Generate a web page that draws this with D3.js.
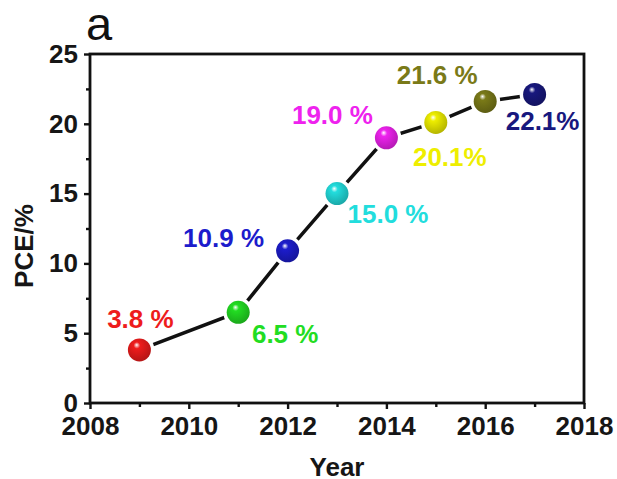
<!DOCTYPE html>
<html>
<head>
<meta charset="UTF-8">
<script src="https://cdn.jsdelivr.net/npm/d3@7"></script>
<style>
  * { margin: 0; padding: 0; }
  body { background: #fff; width: 617px; height: 479px; overflow: hidden; }
  text { font-family: 'Liberation Sans', Arial, sans-serif; }
</style>
</head>
<body>
<svg id="chart" width="617" height="479"></svg>
<script>
// ─── Data ───────────────────────────────────────────────
const years  = [2009, 2011, 2012, 2013, 2014, 2015, 2016, 2017];
const pce    = [3.8, 6.5, 10.9, 15.0, 19.0, 20.1, 21.6, 22.1];
const labels = ['3.8 %', '6.5 %', '10.9 %', '15.0 %', '19.0 %', '20.1%', '21.6 %', '22.1%'];
const colors = ['#ee1c1c', '#22dd22', '#1c1ccc', '#22dddd', '#ee22ee', '#eeee00', '#7a7a18', '#18187e'];
const xTicks = [2008, 2010, 2012, 2014, 2016, 2018];
const yTicks = [0, 5, 10, 15, 20, 25];

// label offsets relative to point (text anchor middle, baseline)
const labelDx = [1, 47, -64, 51, -54, 14, -48, 8];
const labelDy = [-22, 31, -4, 29, -14, 44, -17, 36];

const M = { left: 90, top: 54, right: 584, bottom: 403 };
const FS = 26;
const svg = d3.select('#chart');

const x = d3.scaleLinear().domain([2008, 2018]).range([M.left, M.right]);
const y = d3.scaleLinear().domain([0, 25]).range([M.bottom, M.top]);

// frame
svg.append('rect')
  .attr('x', M.left).attr('y', M.top)
  .attr('width', M.right - M.left).attr('height', M.bottom - M.top)
  .attr('fill', 'none').attr('stroke', '#111').attr('stroke-width', 2.8);

// axes
const xAxis = d3.axisBottom(x).tickValues(xTicks).tickFormat(d3.format('d')).tickSize(6).tickPadding(7.5);
const yAxis = d3.axisLeft(y).tickValues(yTicks).tickSize(6).tickPadding(6);

svg.append('g').attr('transform', `translate(0,${M.bottom})`).call(xAxis);
svg.append('g').attr('transform', `translate(${M.left},0)`).call(yAxis);

// minor ticks
svg.append('g').attr('transform', `translate(0,${M.bottom})`)
  .call(d3.axisBottom(x).tickValues(d3.range(2009, 2018, 2)).tickSize(4).tickFormat(''));
svg.append('g').attr('transform', `translate(${M.left},0)`)
  .call(d3.axisLeft(y).tickValues(d3.range(2.5, 25, 5)).tickSize(4).tickFormat(''));

svg.selectAll('.domain').remove();
svg.selectAll('.tick line').attr('stroke', '#111').attr('stroke-width', 2.4);
svg.selectAll('.tick text')
  .attr('fill', '#161616')
  .style('font-size', FS + 'px').style('font-weight', 'bold')
  .style('font-family', "'Liberation Sans', Arial, sans-serif");

// axis titles
svg.append('text').attr('x', 337).attr('y', 476).attr('text-anchor', 'middle')
  .style('font-size', FS + 'px').style('font-weight', 'bold').attr('fill', '#161616').text('Year');
svg.append('text').attr('transform', 'translate(33,246) rotate(-90)').attr('text-anchor', 'middle')
  .style('font-size', FS + 'px').style('font-weight', 'bold').attr('fill', '#161616').text('PCE/%');
svg.append('text').attr('x', 86).attr('y', 40)
  .style('font-size', '47px').attr('fill', '#111').text('a');

// gradients for spheres
const defs = svg.append('defs');
colors.forEach((c, i) => {
  const g = defs.append('radialGradient').attr('id', 'g' + i)
    .attr('cx', '42%').attr('cy', '38%').attr('r', '65%').attr('fx', '38%').attr('fy', '28%');
  g.append('stop').attr('offset', '0%').attr('stop-color', '#fff');
  g.append('stop').attr('offset', '22%').attr('stop-color', c);
  g.append('stop').attr('offset', '100%').attr('stop-color', d3.color(c).darker(0.8));
});

const pts = years.map((yr, i) => ({ yr, v: pce[i], i }));

// line
svg.append('path').datum(pts)
  .attr('d', d3.line().x(d => x(d.yr)).y(d => y(d.v)))
  .attr('fill', 'none').attr('stroke', '#111').attr('stroke-width', 3.5);

// white halos to make gaps near markers
svg.selectAll('.halo').data(pts).enter().append('circle')
  .attr('cx', d => x(d.yr)).attr('cy', d => y(d.v)).attr('r', 15).attr('fill', '#fff');

svg.selectAll('.ball').data(pts).enter().append('circle')
  .attr('cx', d => x(d.yr)).attr('cy', d => y(d.v)).attr('r', 11.5)
  .attr('fill', d => `url(#g${d.i})`);

svg.selectAll('.lbl').data(pts).enter().append('text')
  .attr('x', d => x(d.yr) + labelDx[d.i]).attr('y', d => y(d.v) + labelDy[d.i])
  .attr('text-anchor', 'middle')
  .style('font-size', FS + 'px').style('font-weight', 'bold')
  .attr('fill', d => colors[d.i]).text(d => labels[d.i]);
</script>
</body>
</html>
